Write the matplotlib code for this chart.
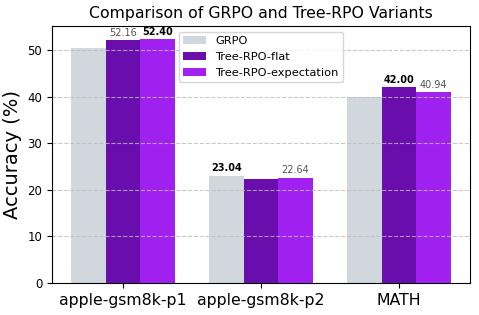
import matplotlib
matplotlib.use("Agg")
import matplotlib.pyplot as plt
import numpy as np

categories = ["apple-gsm8k-p1", "apple-gsm8k-p2", "MATH"]
series_names = ["GRPO", "Tree-RPO-flat", "Tree-RPO-expectation"]
grpo = [50.4, 23.04, 40.05]
flat = [52.16, 22.35, 42.00]
expectation = [52.40, 22.64, 40.94]
colors = ["#d0d8de", "#6a0dad", "#a020f0"]

# labels as shown: (series index, category index, text, bold)
labels = [
    (1, 0, "52.16", False), (2, 0, "52.40", True),
    (0, 1, "23.04", True), (2, 1, "22.64", False),
    (1, 2, "42.00", True), (2, 2, "40.94", False),
]

fig = plt.figure(figsize=(4.79, 3.15), dpi=100)
ax = fig.add_axes([0.1086, 0.1016, 0.981 - 0.1086, 0.9175 - 0.1016])

x = np.arange(len(categories))
w = 0.25
all_series = [grpo, flat, expectation]
for i, (vals, name, c) in enumerate(zip(all_series, series_names, colors)):
    ax.bar(x + (i - 1) * w, vals, w, color=c, label=name)

for si, ci, txt, bold in labels:
    v = all_series[si][ci]
    ax.text(x[ci] + (si - 1) * w, v + 0.5, txt, ha="center", va="bottom",
            fontsize=7, fontweight="bold" if bold else "normal",
            color="black" if bold else "#555555")

ax.set_ylim(0, 55.2)
ax.set_xticks(x)
ax.set_xticklabels(categories, fontsize=11.3)
ax.tick_params(axis="y", labelsize=8.5)
ax.set_ylabel("Accuracy (%)", fontsize=14)
ax.set_title("Comparison of GRPO and Tree-RPO Variants", fontsize=11.3)
ax.yaxis.grid(True, linestyle="--", color="#bbbbbb", alpha=0.8)
ax.legend(loc="upper center", fontsize=8.2)

fig.savefig("out.png", dpi=100)
